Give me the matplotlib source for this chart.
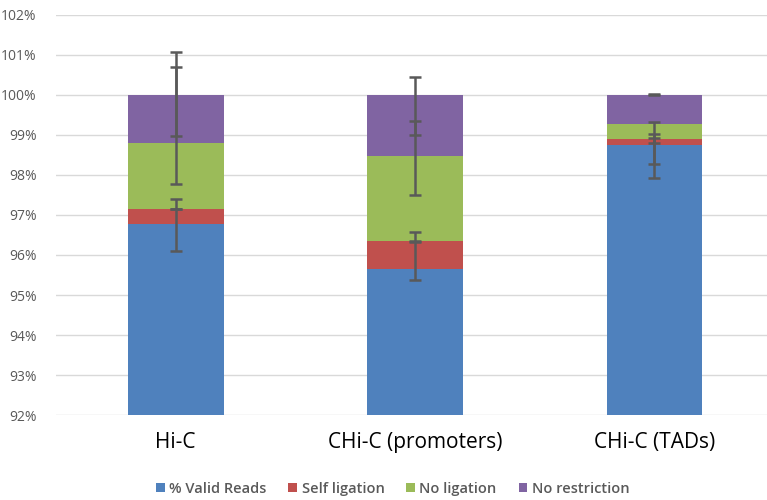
import numpy as np
import matplotlib
matplotlib.use("Agg")
import matplotlib.pyplot as plt
from matplotlib.ticker import FuncFormatter

plt.rcParams['font.family'] = ['Open Sans', 'DejaVu Sans']

categories = ['Hi-C', 'CHi-C (promoters)', 'CHi-C (TADs)']
series = ['% Valid Reads', 'Self ligation', 'No ligation', 'No restriction']
colors = ['#4F81BD', '#C0504D', '#9BBB59', '#8064A2']

# segment sizes (%), one list per series
valid_reads = [96.77, 95.65, 98.75]
self_ligation = [0.37, 0.70, 0.15]
no_ligation = [1.66, 2.13, 0.38]
no_restriction = [1.20, 1.52, 0.72]

# error bars (minus, plus) around the cumulative top of each segment
err_minus = [[0.67, 0.28, 0.83],
             [0.00, 0.00, 0.09],
             [1.02, 0.98, 1.00],
             [1.03, 1.00, 0.00]]
err_plus = [[0.63, 0.68, 0.27],
            [0.00, 0.22, 0.02],
            [1.90, 0.87, 0.05],
            [1.07, 0.44, 0.02]]

values = [valid_reads, self_ligation, no_ligation, no_restriction]

fig = plt.figure(figsize=(7.67, 5.0), dpi=100)
ax = fig.add_axes([56/767, 85/500, 1 - 56/767, 400/500])

x = np.arange(len(categories))
bottom = np.zeros(len(categories))
tops = []
for vals, col, name in zip(values, colors, series):
    ax.bar(x, vals, 0.4, bottom=bottom, color=col, label=name, zorder=2)
    bottom = bottom + np.array(vals)
    tops.append(bottom.copy())

for i in range(len(series)):
    ax.errorbar(x, tops[i], yerr=[err_minus[i], err_plus[i]], fmt='none',
                ecolor='#595959', elinewidth=1.8, capsize=4, capthick=1.8, zorder=3)

ax.set_ylim(92, 102)
ax.set_xlim(-0.5, 2.47)
ax.set_yticks(np.arange(92, 102.1, 1))
ax.yaxis.set_major_formatter(FuncFormatter(lambda v, p: f'{v:.0f}%'))
ax.grid(axis='y', color='#d9d9d9', linewidth=1, zorder=0)
ax.set_axisbelow(True)
for s in ax.spines.values():
    s.set_visible(False)
ax.tick_params(axis='y', length=0, labelsize=10, labelcolor='#595959', pad=14)
ax.tick_params(axis='x', length=0, labelsize=15, pad=12)
ax.set_xticks(x)
ax.set_xticklabels(categories)

leg = ax.legend(loc='center', bbox_to_anchor=(0.5 - 56/767/2 + 0.01, -0.185), ncol=4, frameon=False,
                handlelength=0.6, handleheight=0.6, handletextpad=0.3, columnspacing=1.5,
                prop={'size': 10.5, 'weight': 'semibold'}, labelcolor='#595959')

fig.savefig('out.png', dpi=100)
